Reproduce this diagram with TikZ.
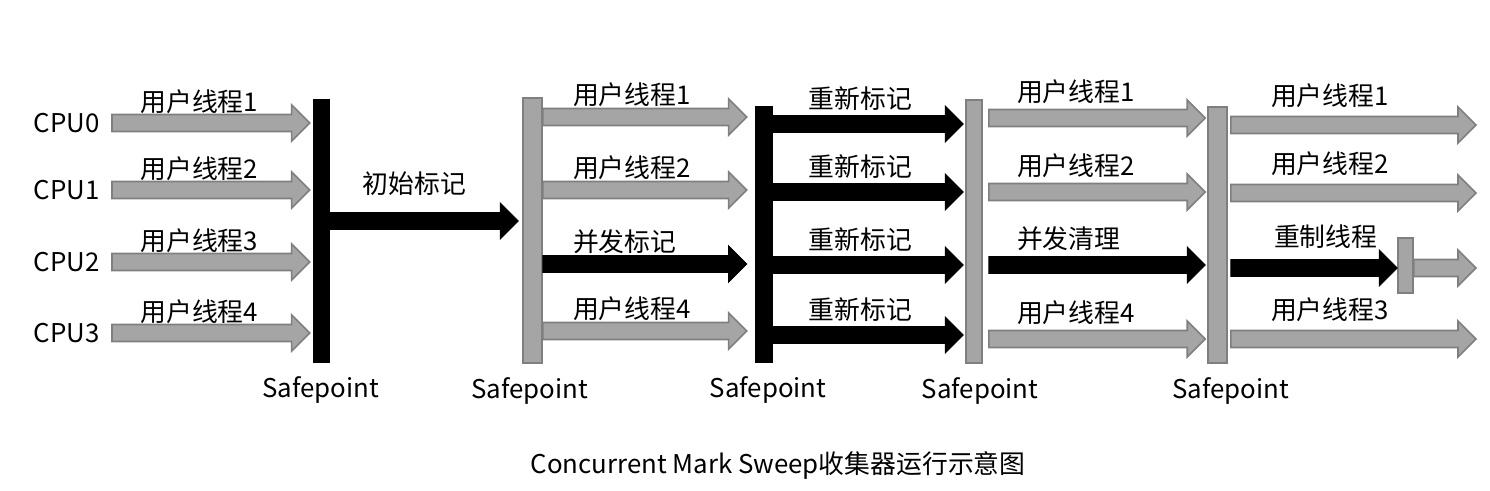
\documentclass[tikz,border=0pt]{standalone}
\usepackage{fontspec}
\setmainfont{Noto Sans CJK SC}
\usetikzlibrary{calc}

\definecolor{fillgray}{HTML}{A5A5A5}
\definecolor{bordergray}{HTML}{7F7F7F}

% block arrow from (#2) to tip (#3), same height
\newcommand{\blockarrow}[3]{%
  \draw[#1] ($(#2)+(0,-8.5)$) -- ($(#3)+(-18,-8.5)$) -- ($(#3)+(-18,-18)$) -- (#3)
    -- ($(#3)+(-18,18)$) -- ($(#3)+(-18,8.5)$) -- ($(#2)+(0,8.5)$) -- cycle;
}

\begin{document}
\begin{tikzpicture}[x=0.02cm, y=-0.02cm,
  txt/.style={inner sep=0, font=\fontsize{14.7}{17}\selectfont},
  graybar/.style={draw=bordergray, fill=fillgray, line width=0.9pt, inner sep=0},
  blackbar/.style={fill=black, inner sep=0},
  grayarrow/.style={draw=bordergray, fill=fillgray, line width=0.9pt},
  blackarrow/.style={draw=black, fill=black, line width=0.5pt}]
\useasboundingbox (0,0) rectangle (1490,490);

% Safepoints
\node[blackbar, minimum width=0.34cm, minimum height=5.28cm] (s1) at (321.5,231) {};
\node[graybar, minimum width=0.38cm, minimum height=5.3cm] (s2) at (532.5,230.5) {};
\node[blackbar, minimum width=0.36cm, minimum height=5.14cm] (s3) at (764,234.5) {};
\node[graybar, minimum width=0.32cm, minimum height=5.26cm] (s4) at (974,231.5) {};
\node[graybar, minimum width=0.38cm, minimum height=5.12cm] (s5) at (1217.5,235) {};
\node[graybar, minimum width=0.3cm, minimum height=1.1cm] (sb) at (1405.5,265.5) {};
\foreach \n/\dx in {1/-1,2/-3,3/4,4/6,5/13}
  \node[txt] (sp\n) at ($(s\n.south)+(\dx,27)$) {Safepoint};

% CPUs and user threads
\foreach \i/\y in {0/123,1/190,2/262,3/333}{
  \node[txt, anchor=east] (cpu\i) at (100,\y) {CPU\i};
  \path (cpu\i.east) ++(12,0) coordinate (a1\i);
  \path (s1.west|-a1\i) ++(-3,0) coordinate (b1\i);
  \blockarrow{grayarrow}{a1\i}{b1\i}
  \pgfmathtruncatemacro\k{\i+1}
  \node[txt, anchor=west] (l1\i) at ($(a1\i)+(28,-21)$) {用户线程\k};
}

% initial mark
\path (s1.east|-0,221) coordinate (a0);
\path (s2.west|-a0) ++(-4,0) coordinate (b0);
\blockarrow{blackarrow}{a0}{b0}
\node[txt, anchor=west] (l0) at ($(a0)+(32,-37)$) {初始标记};

% concurrent mark
\foreach \i/\y/\st/\lbl in {0/117/grayarrow/用户线程1,1/190/grayarrow/用户线程2,
    2/264/blackarrow/并发标记,3/331/grayarrow/用户线程4}{
  \path (s2.east|-0,\y) coordinate (a2\i);
  \path (s3.west|-a2\i) ++(-8,0) coordinate (b2\i);
  \blockarrow{\st}{a2\i}{b2\i}
  \node[txt, anchor=west] (l2\i) at ($(a2\i)+(30,-22)$) {\lbl};
}

% remark
\foreach \i/\y in {0/124,1/192,2/265,3/335}{
  \path (s3.east|-0,\y) coordinate (a3\i);
  \path (s4.west|-a3\i) ++(-2,0) coordinate (b3\i);
  \blockarrow{blackarrow}{a3\i}{b3\i}
  \node[txt, anchor=west] (l3\i) at ($(a3\i)+(35,-25)$) {重新标记};
}

% concurrent sweep
\foreach \i/\y/\st/\lbl in {0/118/grayarrow/用户线程1,1/192/grayarrow/用户线程2,
    2/265/blackarrow/并发清理,3/339/grayarrow/用户线程4}{
  \path (s4.east|-0,\y) ++(6,0) coordinate (a4\i);
  \path (s5.west|-a4\i) ++(-2,0) coordinate (b4\i);
  \blockarrow{\st}{a4\i}{b4\i}
  \node[txt, anchor=west] (l4\i) at ($(a4\i)+(28,-26)$) {\lbl};
}

% after the last safepoint
\foreach \i/\y/\lbl in {0/125/用户线程1,1/193/用户线程2,3/339/用户线程3}{
  \path (s5.east|-0,\y) ++(3,0) coordinate (a5\i);
  \coordinate (e5\i) at (1476,\y);
  \blockarrow{grayarrow}{a5\i}{e5\i}
  \node[txt, anchor=west] (l5\i) at ($(a5\i)+(40,-29)$) {\lbl};
}
\path (s5.east|-0,268) ++(3,0) coordinate (a52);
\path (sb.west|-a52) coordinate (b52);
\blockarrow{blackarrow}{a52}{b52}
\path (sb.east|-a52) coordinate (c52);
\coordinate (e52) at (1476,268);
\blockarrow{grayarrow}{c52}{e52}
\node[txt, anchor=west] (l52) at ($(a52)+(43,-31)$) {重制线程};

% caption
\node[txt] (title) at (778,465) {Concurrent Mark Sweep收集器运行示意图};

\end{tikzpicture}
\end{document}
